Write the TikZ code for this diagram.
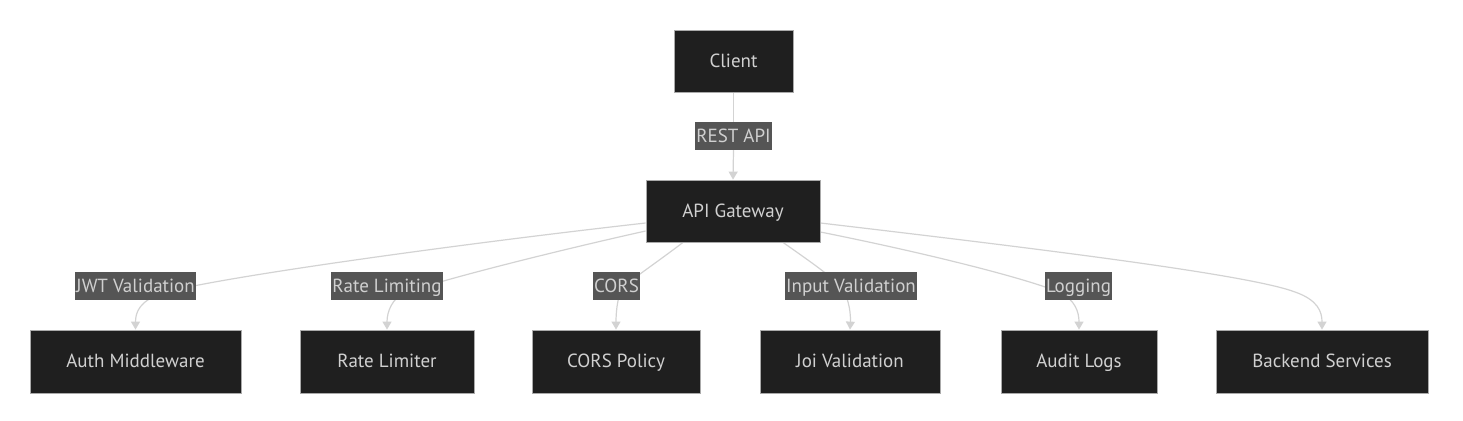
\documentclass[tikz,border=0pt]{standalone}
\usepackage{fontspec}
\setmainfont{PT Sans}
\usetikzlibrary{arrows.meta,calc,backgrounds}
\definecolor{nodefill}{HTML}{1F1F1F}
\definecolor{nodeline}{HTML}{AAAAAA}
\definecolor{txt}{HTML}{D0D0D0}
\definecolor{labfill}{HTML}{555555}
\definecolor{edgecol}{HTML}{D3D3D3}
\tikzset{
  box/.style={draw=nodeline, line width=0.8pt, fill=nodefill, text=txt, inner sep=0pt, minimum height=62pt, text height=12pt, text depth=0pt, font=\fontsize{19}{22}\selectfont},
  lab/.style={fill=labfill, text=txt, inner xsep=1pt, inner ysep=0pt, minimum height=28pt, text height=12pt, text depth=0pt, font=\fontsize{19}{22}\selectfont},
  edge/.style={draw=edgecol, line width=1.2pt},
  arr/.style={edge, -{Triangle[width=9pt,length=8pt,fill=edgecol]}}
}
\begin{document}
\begin{tikzpicture}[x=1pt,y=-1pt]
\useasboundingbox (0,0) rectangle (1463,420);
\node[box, minimum width=119pt] (client) at (733.5,61) {Client};
\node[box, minimum width=174pt] (gw) at (733,211) {API Gateway};
\node[lab] (rest) at (733.5,136) {REST API};

\node[box, minimum width=211pt, minimum height=63pt] (auth) at (135.5,361.5) {Auth Middleware};
\node[box, minimum width=174pt, minimum height=63pt] (rate) at (387,361.5) {Rate Limiter};
\node[box, minimum width=168pt, minimum height=63pt] (cors) at (616,361.5) {CORS Policy};
\node[box, minimum width=180pt, minimum height=63pt] (joi) at (850,361.5) {Joi Validation};
\node[box, minimum width=156pt, minimum height=63pt] (audit) at (1079,361.5) {Audit Logs};
\node[box, minimum width=212pt, minimum height=63pt] (backend) at (1322,361.5) {Backend Services};

\node[lab] (ljwt) at (135.5,286) {JWT Validation};
\node[lab] (lrate) at (387,286) {Rate Limiting};
\node[lab] (lcors) at (616.5,286) {CORS};
\node[lab] (linput) at (851,286) {Input Validation};
\node[lab] (llog) at (1078.5,286) {Logging};

\begin{scope}[on background layer]
\draw[edge] (client.south) -- (rest.north);
\draw[arr] (rest.south) -- (gw.north);

\draw[arr] ($(gw.west)+(0,12)$) .. controls (450,245) and (200,280) .. ($(ljwt.center)+(25,8)$)
  .. controls (140,301) and (135.5,312) .. (auth.north);
\draw[arr] ($(gw.west)+(0,20)$) .. controls (560,250) and (440,280) .. ($(lrate.center)+(18,7)$)
  .. controls (392,298) and (387,312) .. (rate.north);
\draw[arr] ($(gw.south)+(-50,0)$) .. controls (660,260) and (635,277) .. ($(lcors.center)+(8,0)$)
  .. controls (618,292) and (616,310) .. (cors.north);
\draw[arr] ($(gw.south)+(50,0)$) .. controls (805,258) and (830,275) .. ($(linput.center)+(-11,0)$)
  .. controls (847,293) and (851,310) .. (joi.north);
\draw[arr] ($(gw.east)+(0,21)$) .. controls (950,258) and (1040,283) .. ($(llog.center)+(-18,7)$)
  .. controls (1075,300) and (1079,312) .. (audit.north);
\draw[arr] ($(gw.east)+(0,12)$) .. controls (1050,250) and (1250,275) .. (1295,292)
  .. controls (1318,300) and (1322,312) .. (backend.north);
\end{scope}
\end{tikzpicture}
\end{document}
